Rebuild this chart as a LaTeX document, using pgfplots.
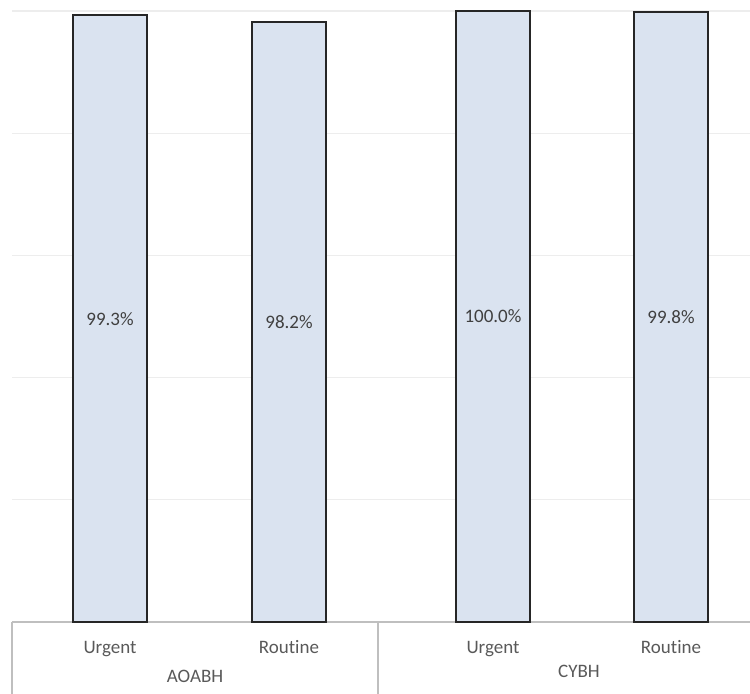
\documentclass[border=0pt]{standalone}
\usepackage{fontspec}
\setmainfont{Carlito}[Ligatures=NoCommon]
\usepackage{pgfplots}
\pgfplotsset{compat=1.18}
\definecolor{barfill}{HTML}{DAE3F0}
\definecolor{gridc}{HTML}{EDEDED}
\definecolor{tablec}{HTML}{BFBFBF}
\definecolor{txt}{HTML}{595959}
\definecolor{valtxt}{HTML}{404040}

\begin{document}
\begin{tikzpicture}
\path[use as bounding box] (-6pt,-36pt) rectangle (369pt,311pt);
\begin{axis}[
  at={(0,0)}, anchor=south west,
  scale only axis, width=369pt, height=311pt,
  xmin=12, xmax=750, ymin=0, ymax=101.8,
  clip=false,
  axis line style={draw=none},
  /pgf/number format/assume math mode=true,
  ytick={20,40,60,80,100}, yticklabels={},
  ytick style={draw=none},
  ymajorgrids, major grid style={gridc, line width=0.6pt},
  xtick={110,289,493,671},
  xticklabels={Urgent,Routine,Urgent,Routine},
  xtick style={draw=none},
  xticklabel style={text=txt, anchor=base, inner sep=0pt, yshift=-15.7pt, font=\fontsize{9.5}{11}\selectfont},
]
% category table below the plot area
\draw[tablec, line width=0.7pt] (axis cs:12,0) -- (axis cs:750,0);
\draw[tablec, line width=0.7pt] (axis cs:12,0) -- (axis cs:12,-11.8);
\draw[tablec, line width=0.7pt] (axis cs:378,0) -- (axis cs:378,-11.8);
\node[text=txt, anchor=base, inner sep=0pt, font=\fontsize{9.5}{11}\selectfont] at (axis cs:195,-9.98) {AOABH};
\node[text=txt, anchor=base, inner sep=0pt, font=\fontsize{9.5}{11}\selectfont] at (axis cs:579,-9.12) {CYBH};

\addplot[ybar, bar width=74, fill=barfill, draw=black!85, line width=1pt,
  visualization depends on={y \as \rawy},
  nodes near coords={\pgfmathprintnumber[fixed,fixed zerofill,precision=1,assume math mode=true]{\pgfplotspointmeta}\%},
  every node near coord/.append style={anchor=center, text=valtxt,
    font=\fontsize{9.5}{11}\selectfont,
    shift={(axis direction cs:0,-\rawy/2)}},
] coordinates {(110,99.3) (289,98.2) (493,100.0) (671,99.8)};
\end{axis}
\end{tikzpicture}
\end{document}
